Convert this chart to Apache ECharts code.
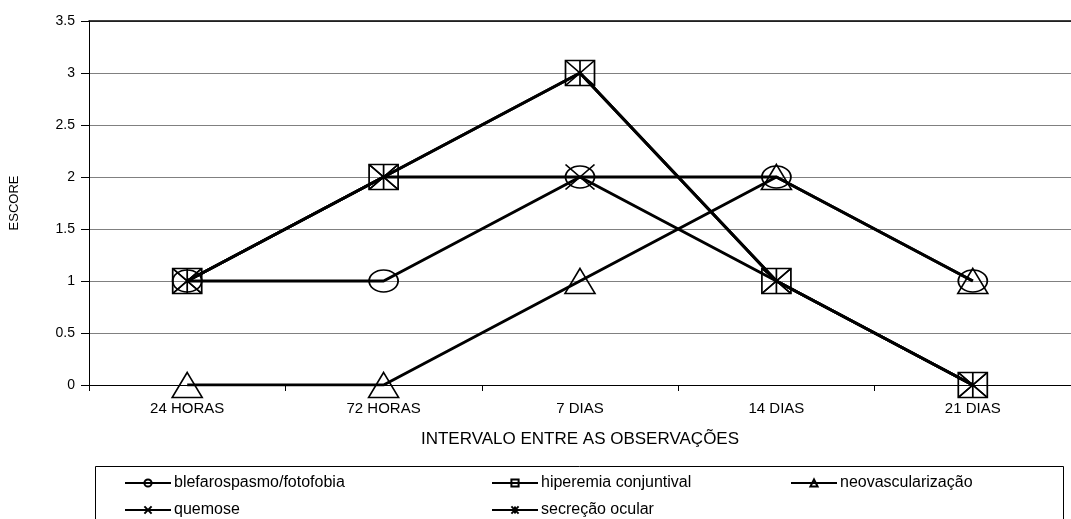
<!DOCTYPE html>
<html>
<head>
<meta charset="utf-8">
<script src="https://cdn.jsdelivr.net/npm/echarts@6/dist/echarts.min.js"></script>
<style>
  html, body { margin: 0; padding: 0; background: #fff; }
  #chart { width: 1071px; height: 519px; }
</style>
</head>
<body>
<div id="chart"></div>
<script>
// Observation intervals and scores per sign
const categories = ['24 HORAS', '72 HORAS', '7 DIAS', '14 DIAS', '21 DIAS'];
const blefarospasmo = [1, 1, 2, 2, 1];
const hiperemia = [1, 2, 3, 1, 0];
const neovascularizacao = [0, 0, 1, 2, 1];
const quemose = [1, 2, 2, 1, 0];
const secrecao = [1, 2, 3, 1, 0];
const yTicks = { min: 0, max: 3.5, interval: 0.5 };

const FONT = '"Liberation Sans", Arial, sans-serif';
const crossPath = 'path://M0,0L30,30M30,0L0,30';
const starPath = 'path://M0,0L30,30M30,0L0,30M15,0L15,30';

function series(name, data, symbol, size) {
  return {
    name: name,
    type: 'line',
    data: data,
    symbol: symbol,
    symbolSize: size,
    showSymbol: true,
    lineStyle: { color: '#000', width: 3 },
    itemStyle: { color: 'rgba(0,0,0,0)', borderColor: '#000', borderWidth: 1.6 },
    emphasis: { disabled: true },
    animation: false
  };
}

function legendItem(name, left, top) {
  return {
    data: [name],
    left: left,
    top: top,
    itemWidth: 46,
    itemHeight: 9,
    itemGap: 0,
    padding: 0,
    textStyle: { fontFamily: FONT, fontSize: 16, color: '#000', padding: [0, 0, 0, -2] },
    selectedMode: false
  };
}

const chart = echarts.init(document.getElementById('chart'));
chart.setOption({
  animation: false,
  backgroundColor: '#fff',
  grid: { left: 88, top: 21, width: 992, height: 364 },
  xAxis: [{
    type: 'category',
    data: categories,
    boundaryGap: true,
    name: 'INTERVALO ENTRE AS OBSERVAÇÕES',
    nameLocation: 'middle',
    nameGap: 46,
    nameTextStyle: { fontFamily: FONT, fontSize: 17, color: '#000' },
    axisLine: { lineStyle: { color: '#000', width: 1 } },
    axisTick: { show: true, length: 6, lineStyle: { color: '#000' } },
    axisLabel: { fontFamily: FONT, fontSize: 15, color: '#000', margin: 16 },
    splitLine: { show: false }
  }, {
    type: 'category',
    data: categories,
    position: 'top',
    axisLine: { lineStyle: { color: '#000', width: 1.5 } },
    axisTick: { show: false },
    axisLabel: { show: false }
  }],
  yAxis: {
    type: 'value',
    min: yTicks.min,
    max: yTicks.max,
    interval: yTicks.interval,
    name: 'ESCORE',
    nameLocation: 'middle',
    nameRotate: 90,
    nameGap: 68,
    nameTextStyle: { fontFamily: FONT, fontSize: 13, color: '#000' },
    axisLine: { show: true, lineStyle: { color: '#000', width: 1 } },
    axisTick: { show: true, length: 8, lineStyle: { color: '#000' } },
    axisLabel: { fontFamily: FONT, fontSize: 14, color: '#000', margin: 14 },
    splitLine: { show: true, lineStyle: { color: '#808080', width: 1 } }
  },
  legend: [
    legendItem('blefarospasmo/fotofobia', 124, 475),
    legendItem('hiperemia conjuntival', 491, 475),
    legendItem('neovascularização', 790, 475),
    legendItem('quemose', 124, 502),
    legendItem('secreção ocular', 491, 502)
  ],
  graphic: [{
    type: 'rect',
    shape: { x: 95.5, y: 466.5, width: 968, height: 80 },
    style: { fill: 'none', stroke: '#000', lineWidth: 1 },
    silent: true
  }],
  series: [
    series('blefarospasmo/fotofobia', blefarospasmo, 'circle', [29, 22]),
    series('hiperemia conjuntival', hiperemia, 'rect', [29, 25]),
    series('neovascularização', neovascularizacao, 'triangle', [30, 25]),
    series('quemose', quemose, crossPath, [29, 25]),
    series('secreção ocular', secrecao, starPath, [29, 25])
  ]
});
</script>
</body>
</html>
